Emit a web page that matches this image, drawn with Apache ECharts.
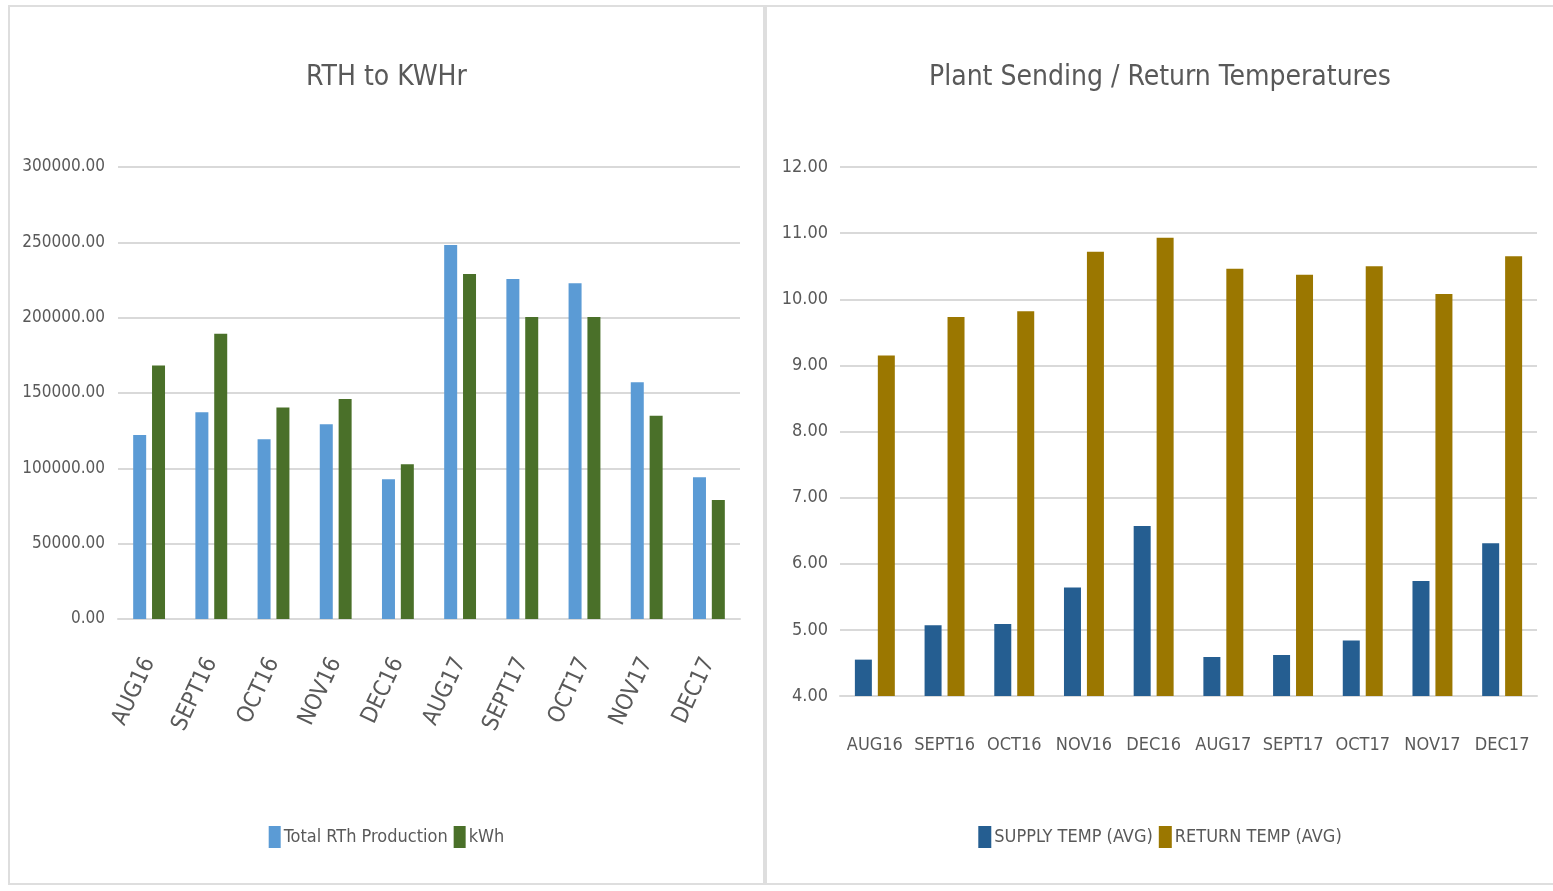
<!DOCTYPE html>
<html>
<head>
<meta charset="utf-8">
<title>RTH to KWHr / Plant Sending Return Temperatures</title>
<script src="https://cdn.jsdelivr.net/npm/echarts@6/dist/echarts.min.js"></script>
<style>
  html, body { margin: 0; padding: 0; background: #fff; }
  .panel {
    position: absolute;
    top: 5px;
    height: 880px;
    border: 2px solid #dedede;
    box-sizing: border-box;
    background: #fff;
  }
  #left { left: 8px; width: 757px; }
  #right { left: 765px; width: 788px; border-right: none; }
</style>
</head>
<body>
<div id="left" class="panel"></div>
<div id="right" class="panel"></div>

<script>
// 数据
const months = ['AUG16', 'SEPT16', 'OCT16', 'NOV16', 'DEC16', 'AUG17', 'SEPT17', 'OCT17', 'NOV17', 'DEC17']
const rthProduction = [122200, 137300, 119300, 129300, 92700, 248200, 225700, 222900, 157100, 94000]
const kwh = [168200, 189300, 140400, 146000, 102700, 228900, 200400, 200400, 134900, 78900]
const supplyTemp = [4.55, 5.07, 5.09, 5.64, 6.57, 4.59, 4.62, 4.84, 5.74, 6.31]
const returnTemp = [9.15, 9.73, 9.82, 10.72, 10.93, 10.46, 10.37, 10.50, 10.08, 10.65]

const FONT = '"Liberation Sans Narrow", "DejaVu Sans Condensed", "Roboto", sans-serif'
const TEXT = '#595959'
const GRID_LINE = '#d9d9d9'

// 左图：RTH to KWHr
const leftChart = echarts.init(document.getElementById('left'))
leftChart.setOption({
  animation: false,
  textStyle: { fontFamily: FONT },
  title: {
    text: 'RTH to KWHr',
    left: 'center',
    top: 52,
    textStyle: { fontFamily: FONT, fontSize: 28, fontWeight: 'normal', color: TEXT }
  },
  legend: {
    data: ['Total RTh Production', 'kWh'],
    left: 'center',
    top: 814,
    icon: 'rect',
    itemWidth: 12,
    itemHeight: 22,
    itemGap: 6,
    textStyle: { fontFamily: FONT, fontSize: 18, color: TEXT, padding: [0, 0, 0, -2] }
  },
  grid: { left: 108, right: 23, top: 160, bottom: 264, outerBoundsMode: 'none' },
  xAxis: {
    type: 'category',
    data: months,
    axisLine: { lineStyle: { color: GRID_LINE, width: 2 } },
    axisTick: { show: false },
    axisLabel: { rotate: 65, margin: 40, fontSize: 23, color: TEXT, fontFamily: FONT, interval: 0 }
  },
  yAxis: {
    type: 'value',
    min: 0,
    max: 300000,
    interval: 50000,
    axisLine: { show: false },
    axisTick: { show: false },
    splitLine: { lineStyle: { color: GRID_LINE, width: 2 } },
    axisLabel: {
      margin: 13,
      fontSize: 17,
      color: TEXT,
      fontFamily: FONT,
      formatter: v => v.toFixed(2)
    }
  },
  series: [
    {
      name: 'Total RTh Production',
      type: 'bar',
      data: rthProduction,
      barWidth: 13,
      barGap: '45%',
      itemStyle: { color: '#5b9bd5' }
    },
    {
      name: 'kWh',
      type: 'bar',
      data: kwh,
      barWidth: 13,
      itemStyle: { color: '#4a7029' }
    }
  ]
})

// 右图：Plant Sending / Return Temperatures
const rightChart = echarts.init(document.getElementById('right'))
rightChart.setOption({
  animation: false,
  textStyle: { fontFamily: FONT },
  title: {
    text: 'Plant Sending / Return Temperatures',
    left: 'center',
    top: 52,
    textStyle: { fontFamily: FONT, fontSize: 28, fontWeight: 'normal', color: TEXT }
  },
  legend: {
    data: ['SUPPLY TEMP (AVG)', 'RETURN TEMP (AVG)'],
    left: 'center',
    top: 814,
    icon: 'rect',
    itemWidth: 13,
    itemHeight: 22,
    itemGap: 6,
    textStyle: { fontFamily: FONT, fontSize: 18, color: TEXT, padding: [0, 0, 0, -2] }
  },
  grid: { left: 73, right: 16, top: 160, bottom: 187, outerBoundsMode: 'none' },
  xAxis: {
    type: 'category',
    data: months,
    axisLine: { lineStyle: { color: GRID_LINE, width: 2 } },
    axisTick: { show: false },
    axisLabel: { margin: 40, fontSize: 18, color: TEXT, fontFamily: FONT, interval: 0 }
  },
  yAxis: {
    type: 'value',
    min: 4,
    max: 12,
    interval: 1,
    axisLine: { show: false },
    axisTick: { show: false },
    splitLine: { lineStyle: { color: GRID_LINE, width: 2 } },
    axisLabel: {
      margin: 12,
      fontSize: 18,
      color: TEXT,
      fontFamily: FONT,
      formatter: v => v.toFixed(2)
    }
  },
  series: [
    {
      name: 'SUPPLY TEMP (AVG)',
      type: 'bar',
      data: supplyTemp,
      barWidth: 17,
      barGap: '35%',
      itemStyle: { color: '#255e91' }
    },
    {
      name: 'RETURN TEMP (AVG)',
      type: 'bar',
      data: returnTemp,
      barWidth: 17,
      itemStyle: { color: '#9b7700' }
    }
  ]
})

// 图表自适应
window.addEventListener('resize', () => {
  leftChart.resize()
  rightChart.resize()
})
</script>
</body>
</html>
